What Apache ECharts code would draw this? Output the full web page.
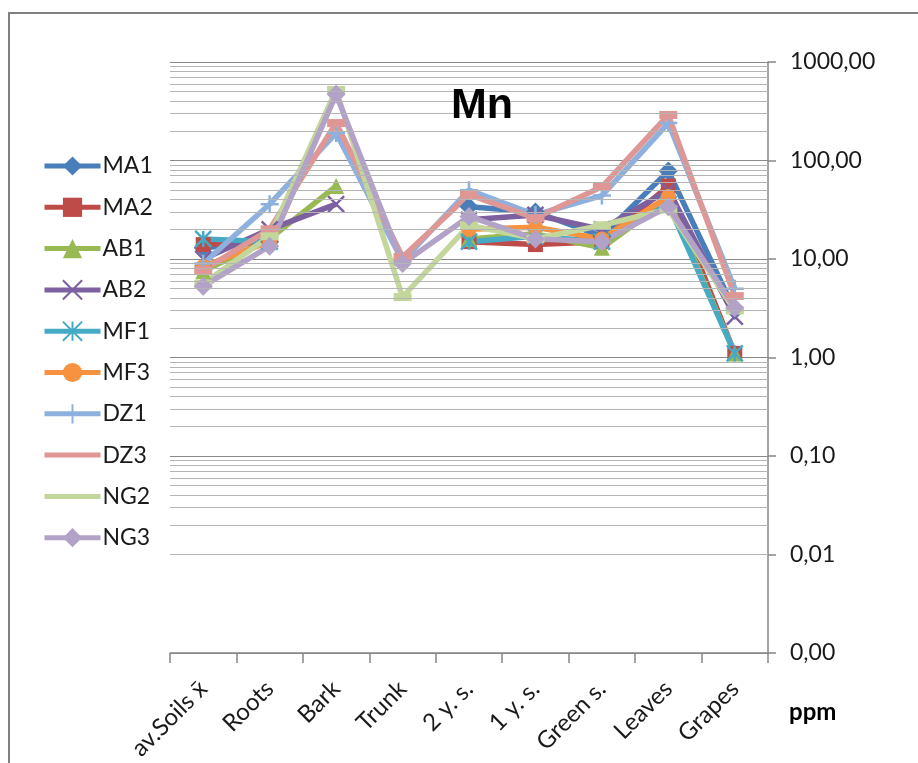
<!DOCTYPE html>
<html>
<head>
<meta charset="utf-8">
<script src="https://cdn.jsdelivr.net/npm/echarts@6/dist/echarts.min.js"></script>
<style>
html,body{margin:0;padding:0;background:#fff;}
#chart{width:918px;height:763px;}
</style>
</head>
<body>
<div id="chart"></div>
<script>
var categories = ['av.Soils x\u0304', 'Roots', 'Bark', 'Trunk', '2 y. s.', '1 y. s.', 'Green s.', 'Leaves', 'Grapes'];
var yTickLabels = ['0,00', '0,01', '0,10', '1,00', '10,00', '100,00', '1000,00'];

var MA1 = [13, 15, null, null, 34, 30, 17, 78, 3];
var MA2 = [14, 15, null, null, 15, 14, 15, 55, 1.1];
var AB1 = [7.5, 16, 55, null, 16, 18, 13, 40, 1.1];
var AB2 = [10, 20, 36, null, 25, 28, 20, 50, 2.6];
var MF1 = [16, 15, null, null, 15, 17, 15, 36, 1.1];
var MF3 = [8.4, 15, null, null, 20, 21, 16, 43, null];
var DZ1 = [9, 36, 190, 9.5, 50, 28, 44, 240, 5];
var DZ3 = [7.7, 20, 240, 10.5, 45, 26, 54, 290, 4.2];
var NG2 = [5.6, 17, 520, 4.1, 22, 16, 22, 32, 3];
var NG3 = [5.3, 13.5, 470, 9, 27, 16, 15, 34, 3.2];

var seriesNames = ['MA1', 'MA2', 'AB1', 'AB2', 'MF1', 'MF3', 'DZ1', 'DZ3', 'NG2', 'NG3'];
var seriesData = [MA1, MA2, AB1, AB2, MF1, MF3, DZ1, DZ3, NG2, NG3];
var seriesColors = ['#4A7EBB', '#BE4B48', '#98B954', '#7D60A0', '#46AAC5', '#F69240', '#8EB0DE', '#DE9795', '#C3D69B', '#B3A2C7'];

var SYM_X = 'path://M0,0L10,10M10,0L0,10';
var SYM_STAR = 'path://M0,0L10,10M10,0L0,10M5,0L5,10';
var SYM_PLUS = 'path://M5,0L5,10M0,5L10,5';
var symbols = ['diamond', 'rect', 'triangle', SYM_X, SYM_STAR, 'circle', SYM_PLUS, 'rect', 'rect', 'diamond'];
var symbolSizes = [19, 15, 16, 16, 16, 15, 18, [18, 8], [18, 8], 19];
var strokeSymbol = [false, false, false, true, true, false, true, false, false, false];
// legend icon: plain thick line (for series whose dash marker blends into the line)
var LINE_ICON = 'path://M0,0L0.01,0L0,0.01Z M0,9.5L56,9.5L56,14.5L0,14.5Z M56,24L55.99,24L56,23.99Z';
var plainLegend = [false, false, false, false, false, false, false, true, true, false];

// minor gridline positions (2..9 in each decade)
var minorLines = [];
[0.001, 0.01, 0.1, 1, 10, 100].forEach(function (d) {
  for (var k = 2; k <= 9; k++) minorLines.push({ yAxis: +(d * k).toPrecision(3) });
});

var FONT = 'Lato, "Liberation Sans", sans-serif';

var series = [{
  name: '__grid',
  type: 'line',
  data: categories.map(function () { return null; }),
  silent: true,
  symbol: 'none',
  z: 1,
  markLine: {
    silent: true,
    symbol: 'none',
    animation: false,
    label: { show: false },
    lineStyle: { color: '#b4b4b4', width: 1, type: 'solid' },
    emphasis: { disabled: true },
    data: minorLines
  }
}];

seriesNames.forEach(function (n, i) {
  var s = {
    name: n,
    type: 'line',
    data: seriesData[i],
    symbol: symbols[i],
    symbolSize: symbolSizes[i],
    showAllSymbol: true,
    connectNulls: false,
    z: 3,
    lineStyle: { color: seriesColors[i], width: 5.5 },
    itemStyle: { color: seriesColors[i], opacity: 1 },
    emphasis: { disabled: true }
  };
  if (strokeSymbol[i]) {
    s.itemStyle.borderColor = seriesColors[i];
    s.itemStyle.borderWidth = 2.5;
  }
  series.push(s);
});

var legendData = seriesNames.map(function (n, i) {
  return plainLegend[i] ? { name: n, icon: LINE_ICON } : { name: n };
});

var chart = echarts.init(document.getElementById('chart'), null, { renderer: 'canvas' });
chart.setOption({
  animation: false,
  backgroundColor: '#ffffff',
  title: {
    text: 'Mn',
    left: 446,
    top: 80,
    textStyle: { fontFamily: '"Liberation Sans", Arial, sans-serif', fontSize: 43, fontWeight: 'bold', color: '#000' }
  },
  legend: {
    data: legendData,
    orient: 'vertical',
    left: 37,
    top: 149,
    itemWidth: 56,
    itemHeight: 24,
    itemGap: 17.3,
    selectedMode: false,
    lineStyle: { width: 5 },
    textStyle: { fontFamily: FONT, fontSize: 23, lineHeight: 24, color: '#1a1a1a', padding: [0, 0, 0, -3] }
  },
  grid: { left: 170, right: 150, top: 62, bottom: 108, containLabel: false },
  xAxis: {
    type: 'category',
    data: categories,
    boundaryGap: true,
    axisLine: { show: true, lineStyle: { color: '#868686', width: 1.5 } },
    axisTick: { show: true, length: 10, alignWithLabel: false, lineStyle: { color: '#868686', width: 1.5 } },
    axisLabel: { interval: 0, rotate: 45, margin: 32, fontFamily: FONT, fontSize: 24, color: '#1a1a1a' },
    splitLine: { show: false }
  },
  yAxis: {
    type: 'log',
    logBase: 10,
    min: 0.001,
    max: 1000,
    interval: 1,
    position: 'right',
    axisLine: { show: true, lineStyle: { color: '#868686', width: 1.5 } },
    axisTick: { show: true, inside: false, length: 8, lineStyle: { color: '#868686', width: 1.5 } },
    axisLabel: {
      margin: 22,
      fontFamily: FONT,
      fontSize: 23,
      color: '#1a1a1a',
      formatter: function (v) {
        var e = Math.round(Math.log10(v));
        return yTickLabels[e + 3];
      }
    },
    splitLine: { show: true, lineStyle: { color: '#8a8a8a', width: 1.2 } }
  },
  graphic: [
    {
      type: 'polyline',
      silent: true,
      shape: { points: [[9, 763], [9, 13], [918, 13]] },
      style: { stroke: '#808080', lineWidth: 2, fill: null }
    },
    {
      type: 'text',
      left: 789,
      top: 700,
      silent: true,
      style: { text: 'ppm', font: 'bold 24px ' + FONT, fill: '#000' }
    }
  ],
  series: series
});
</script>
</body>
</html>
